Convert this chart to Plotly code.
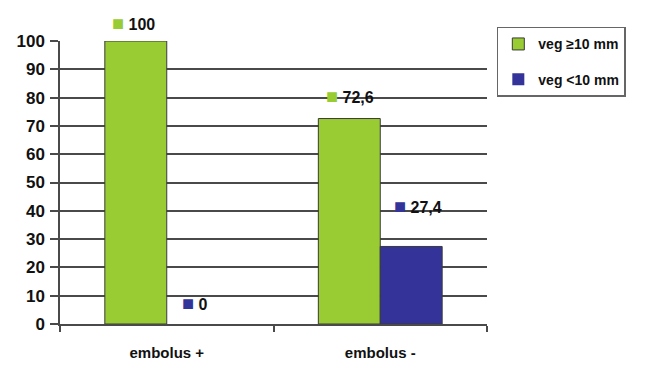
import plotly.graph_objects as go

categories = ["embolus +", "embolus -"]
series_names = ["veg ≥10 mm", "veg <10 mm"]
veg_large = [100, 72.6]
veg_small = [0, 27.4]
colors = ["#99CC33", "#333399"]
y_ticks = list(range(0, 101, 10))

FONT = "Liberation Sans, Arial, sans-serif"

def fmt(v):
    s = ("%g" % v)
    return s.replace(".", ",")

fig = go.Figure()
for i, (name, vals, col) in enumerate(zip(series_names, [veg_large, veg_small], colors)):
    fig.add_trace(go.Bar(
        x=categories, y=vals, name=name, legendgroup="g%d" % i,
        marker=dict(color=col,
                    line=dict(color="#3a3a3a", width=[1 if v > 0 else 0 for v in vals])),
    ))

# data labels with legend keys (pixel offsets from bar tops)
label_offsets = {
    0: [(-33, 18), (-30, 23)],
    1: [(28, 21), (38, 40)],
}
for si, (vals, col) in enumerate(zip([veg_large, veg_small], colors)):
    for ci, (cat, v) in enumerate(zip(categories, vals)):
        dx, dy = label_offsets[si][ci]
        fig.add_annotation(
            x=cat, y=v, xref="x", yref="y",
            text="<span style='color:%s;font-size:20px'>■</span> %s" % (col, fmt(v)),
            showarrow=False, xshift=dx, yshift=dy,
            font=dict(family=FONT, size=16, color="#111111", weight="bold"),
        )

fig.update_layout(
    width=649, height=368,
    margin=dict(l=60, r=162, t=41, b=44),
    paper_bgcolor="white", plot_bgcolor="white",
    barmode="group", bargap=0.42, bargroupgap=0,
    font=dict(family=FONT, color="#111111"),
    legend=dict(
        x=1.023, y=1.05, xanchor="left", yanchor="top",
        bordercolor="#666666", borderwidth=1.5,
        font=dict(family=FONT, size=14, color="#111111", weight="bold"),
        tracegroupgap=14, itemwidth=30, entrywidth=135,
    ),
    showlegend=True,
)
fig.update_yaxes(
    range=[0, 100], tickvals=y_ticks,
    showgrid=True, gridcolor="#4a4a4a", gridwidth=1.5,
    showline=True, linecolor="#4a4a4a", linewidth=1.5,
    ticks="outside", ticklen=8, tickcolor="#4a4a4a", tickwidth=1.5,
    tickfont=dict(family=FONT, size=17, color="#111111", weight="bold"),
    ticklabelstandoff=2, zeroline=False, automargin=False,
)
fig.update_xaxes(
    showline=True, linecolor="#4a4a4a", linewidth=1.5,
    ticks="outside", ticklen=6, tickcolor="#4a4a4a", tickwidth=1.5,
    tickson="boundaries",
    tickfont=dict(family=FONT, size=15, color="#111111", weight="bold"),
    ticklabelstandoff=14, automargin=False,
)

fig.write_html("out.html")
